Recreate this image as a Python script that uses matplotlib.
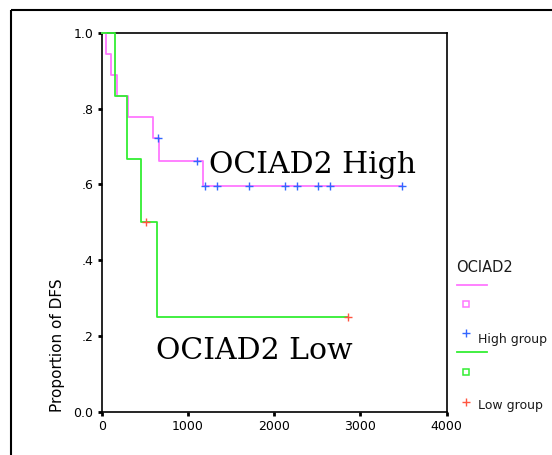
import numpy as np
import matplotlib.pyplot as plt
from matplotlib.patches import Rectangle

# Kaplan-Meier steps (days, proportion)
high_t = [0, 50, 104, 174, 305, 591, 668, 1178, 3478]
high_s = [1.0, 0.944, 0.889, 0.833, 0.778, 0.722, 0.662, 0.596, 0.596]
high_cens = [656, 1108, 1198, 1333, 1711, 2125, 2261, 2512, 2647, 3478]

low_t = [0, 155, 297, 452, 637, 2860]
low_s = [1.0, 0.833, 0.667, 0.5, 0.25, 0.25]
low_cens = [510, 2860]

yticks = [0.0, 0.2, 0.4, 0.6, 0.8, 1.0]
ytick_labels = ['0.0', '.2', '.4', '.6', '.8', '1.0']
xticks = [0, 1000, 2000, 3000, 4000]

c_high, c_low = '#ff77ff', '#33ee33'
c_hcens, c_lcens = '#3366ff', '#ff5540'


def surv_at(times, surv, t):
    i = np.searchsorted(times, t, side='right') - 1
    return np.asarray(surv)[i]


fig = plt.figure(figsize=(5.52, 4.55), dpi=100)
ax = fig.add_axes([101.7/552, 1-412/455, 345/552, 379.3/455])

ax.step(high_t, high_s, where='post', color=c_high, lw=1.3, zorder=3, clip_on=False)
ax.step(low_t, low_s, where='post', color=c_low, lw=1.3, zorder=3, clip_on=False)
ax.plot(high_cens, surv_at(high_t, high_s, high_cens), '+', color=c_hcens,
        ms=6, mew=1.0, zorder=4, clip_on=False)
ax.plot(low_cens, surv_at(low_t, low_s, low_cens), '+', color=c_lcens,
        ms=6, mew=1.0, zorder=4, clip_on=False)

ax.text(1248, 0.631, 'OCIAD2 High', family='DejaVu Serif', fontsize=21.5, va='baseline')
ax.text(630, 0.139, 'OCIAD2 Low', family='DejaVu Serif', fontsize=21.5, va='baseline')

ax.set_xlim(0, 4000)
ax.set_ylim(0, 1.0)
ax.set_xticks(xticks)
ax.set_yticks(yticks)
ax.set_yticklabels(ytick_labels)
ax.tick_params(length=3, width=2, pad=3, labelsize=9)
for s in ax.spines.values():
    s.set_linewidth(1.2)
ax.set_ylabel('Proportion of DFS', fontsize=11, loc='bottom', labelpad=6)

# overlay in pixel units for the outer frame and the SPSS-style legend
ov = fig.add_axes([0, 0, 1, 1], zorder=-1)
ov.set_xlim(0, 552)
ov.set_ylim(455, 0)
ov.axis('off')
ov.add_patch(Rectangle((11, 10), 600, 500, fill=False, lw=1.5, ec='black'))

ov2 = fig.add_axes([0, 0, 1, 1])
ov2.set_xlim(0, 552)
ov2.set_ylim(455, 0)
ov2.axis('off')
ov2.text(456, 272, 'OCIAD2', fontsize=10.5, va='baseline', color='#1a1a1a')
ov2.plot([457, 487], [285, 285], color=c_high, lw=1.3)
ov2.plot([465.7], [304], 's', mfc='none', mec=c_high, ms=4, mew=1.1)
ov2.plot([466], [333], '+', color=c_hcens, ms=5.5, mew=1.0)
ov2.text(478, 339, 'High group', fontsize=9, va='center', color='#1a1a1a')
ov2.plot([457, 487], [352, 352], color=c_low, lw=1.3)
ov2.plot([465.7], [371.5], 's', mfc='none', mec=c_low, ms=4, mew=1.1)
ov2.plot([466], [402], '+', color=c_lcens, ms=5.5, mew=1.0)
ov2.text(478, 405, 'Low group', fontsize=9, va='center', color='#1a1a1a')

fig.savefig('out.png', dpi=100)
